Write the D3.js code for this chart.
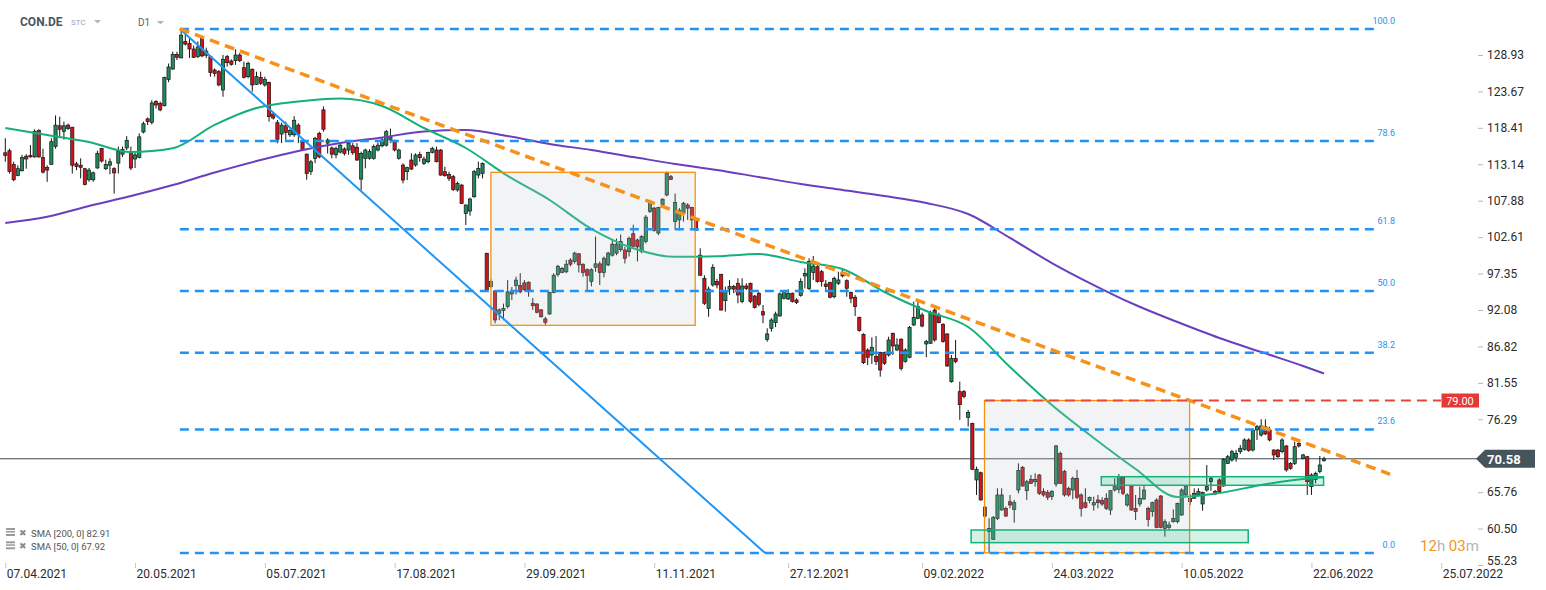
<!DOCTYPE html>
<html><head><meta charset="utf-8">
<script src="https://cdn.jsdelivr.net/npm/d3@7"></script>
<style>
html,body{margin:0;padding:0;background:#fff;overflow:hidden;}
svg{display:block;font-family:Roboto,"Noto Sans",Arial,sans-serif;}
</style></head><body>
<svg id="chart" width="1546" height="590"></svg>
<script>
// ---------------- data ----------------
const symbol = "CON.DE";
const startDate = "2021-04-07";
const closedDays = ["2021-05-24","2022-04-15","2022-04-18"];

const open = [
114.8,115.1,113.1,111.5,112.2,114.3,114.4,114.2,118.0,114.1,
112.7,113.1,115.7,118.7,117.9,118.8,118.5,113.2,113.0,112.5,
110.9,110.9,112.6,115.4,112.5,113.0,112.5,113.3,114.6,115.5,
115.0,113.9,114.1,117.8,119.7,119.2,122.2,121.9,121.6,125.4,
126.9,129.0,128.5,130.9,130.6,129.8,128.7,131.3,128.9,128.69,
126.76,126.52,123.87,128.69,128.07,128.11,128.93,127.1,125.8,126.86,
124.69,125.66,124.6,124.98,120.41,119.15,117.5,118.7,117.4,117.4,
118.8,116.3,114.6,112.1,114.0,117.6,121.0,116.2,115.5,114.5,
114.9,115.35,115.2,115.8,115.6,111.0,114.0,114.0,114.0,115.2,
115.8,115.9,116.65,116.4,114.0,113.03,112.07,113.75,113.03,114.57,
113.27,113.51,114.86,115.2,115.2,112.07,111.68,111.34,109.42,110.14,
106.04,106.38,108.45,111.58,111.83,100.27,95.45,94.83,91.6,92.0,
92.6,94.4,95.6,95.6,96.0,96.1,93.05,92.95,92.1,90.8,
91.5,94.6,97.2,97.5,97.6,99.3,99.1,100.2,98.7,97.9,
96.2,98.25,98.75,97.5,98.6,100.0,100.3,100.8,100.75,100.5,
103.1,102.2,100.5,102.0,106.3,106.8,103.2,107.3,108.7,111.35,
104.85,105.1,106.05,107.25,106.9,105.1,100.0,96.66,92.3,95.7,
96.18,97.24,93.43,95.1,95.46,95.94,93.3,95.55,95.94,94.1,
94.5,91.84,87.85,89.44,90.25,91.22,93.77,93.67,94.5,93.53,
94.16,97.0,95.2,97.48,98.34,97.62,95.84,96.04,94.0,95.94,
97.48,96.32,94.64,93.92,91.02,88.57,86.3,85.58,85.34,85.92,
85.92,85.58,88.71,86.3,87.85,84.62,85.25,89.92,90.88,91.36,
87.17,87.27,92.08,91.36,90.02,88.62,81.72,85.1,80.28,80.28,
76.57,75.7,67.52,68.57,63.6,60.1,58.94,61.97,63.18,63.42,
64.38,63.27,66.07,69.34,65.97,67.61,67.27,68.24,65.83,65.69,
65.11,66.94,71.37,68.72,66.31,66.07,67.76,65.35,64.24,64.53,
63.9,64.63,64.53,64.87,63.18,66.07,66.17,67.9,63.9,66.65,
63.42,64.05,64.77,63.42,62.94,64.63,65.2,60.53,60.67,61.49,
61.49,62.46,65.35,64.87,64.87,65.35,64.05,66.07,67.27,65.83,
67.52,66.65,69.92,70.4,70.79,71.61,71.95,73.3,71.85,74.74,
74.02,75.22,74.74,71.85,71.85,71.61,72.43,69.92,69.92,72.81,
70.64,70.88,66.55,67.61,68.72,70.3];

const high = [
116.9,115.4,113.5,113.0,114.5,114.6,115.9,118.2,118.2,115.4,
113.0,116.9,120.2,120.0,119.3,119.0,118.5,113.5,114.0,112.6,
112.6,112.1,115.1,115.5,113.8,114.0,112.7,115.7,115.7,117.2,
115.7,114.8,117.6,119.3,119.9,122.4,122.4,122.2,125.8,127.7,
129.4,129.4,132.7,132.2,131.3,130.3,130.9,131.6,130.0,128.93,
127.0,126.76,128.93,128.93,128.3,129.75,129.2,127.97,127.97,127.0,
126.52,126.52,125.8,125.08,120.6,119.54,119.15,119.3,118.3,120.1,
119.06,116.5,114.7,113.76,117.1,117.85,121.5,116.9,115.7,115.7,
116.3,115.6,116.65,116.2,116.2,114.96,115.4,115.3,116.0,116.3,
117.0,118.1,118.3,116.7,115.4,113.27,112.79,114.72,114.72,114.96,
114.23,114.96,115.68,115.68,115.34,112.79,112.07,111.58,110.62,110.24,
107.35,108.31,112.31,113.51,113.41,100.36,96.5,94.97,92.3,93.0,
96.4,95.4,96.9,97.4,96.4,96.2,93.8,93.05,92.2,91.1,
94.7,97.4,98.6,98.3,99.3,99.55,100.5,100.3,98.8,98.1,
98.1,102.7,99.1,99.8,100.5,102.3,102.4,103.0,101.2,102.7,
104.4,102.4,102.9,105.8,108.0,107.0,107.0,108.2,112.1,111.6,
108.9,106.8,107.7,107.5,107.0,105.2,101.0,97.1,95.46,98.7,
96.6,97.3,95.46,96.4,95.7,96.66,96.66,95.94,96.04,94.25,
94.7,92.8,89.44,90.9,91.84,94.6,94.97,95.07,94.6,93.77,
96.66,98.1,99.55,99.89,98.6,97.86,96.42,96.18,96.9,97.62,
97.96,96.52,94.73,94.25,91.12,88.71,86.55,88.14,88.33,86.06,
86.06,88.23,88.81,87.99,87.99,86.55,89.77,93.29,93.39,91.7,
87.75,91.98,92.33,91.7,90.16,88.71,85.58,87.75,81.72,80.52,
77.63,75.8,69.44,68.72,63.7,61.97,62.3,66.31,66.31,63.66,
65.35,64.63,69.92,69.54,67.52,68.24,68.48,68.38,66.31,66.07,
66.07,72.57,71.61,68.97,66.55,68.0,68.97,65.59,66.31,65.11,
65.11,65.35,65.01,65.59,66.07,67.76,68.38,68.0,65.59,66.79,
65.35,66.55,66.79,63.66,64.38,64.87,65.35,61.83,61.49,63.27,
64.24,66.31,66.79,65.49,66.31,66.31,65.83,69.68,68.0,66.07,
67.76,70.64,71.13,71.85,71.85,72.57,73.54,73.54,74.98,75.47,
76.28,76.28,75.22,71.95,72.0,73.54,72.57,70.1,73.06,73.3,
71.3,70.98,68.48,68.72,70.98,70.88];

const low = [
113.5,111.8,110.7,111.4,112.1,112.5,114.1,114.1,114.1,111.8,
110.6,113.1,115.4,116.9,116.7,118.1,111.8,112.3,111.1,110.1,
110.6,110.6,112.5,113.4,112.3,111.7,108.9,111.8,114.2,115.2,
112.3,112.6,114.0,117.6,118.8,118.9,121.2,120.8,121.5,125.0,
126.8,128.2,128.5,130.3,128.5,128.5,128.5,128.6,128.5,125.8,
125.8,124.4,122.9,127.25,127.4,127.5,127.9,125.56,125.56,123.63,
124.6,124.6,124.36,119.3,119.6,116.17,116.2,116.65,117.1,117.1,
116.2,115.1,110.9,111.6,113.3,114.0,117.85,114.7,114.0,114.0,
114.7,114.4,114.5,114.5,113.65,109.4,112.55,113.8,113.8,115.0,
115.6,115.7,116.2,115.0,113.8,110.38,110.86,112.31,112.79,113.51,
113.03,113.27,114.72,113.41,111.49,111.34,110.72,109.27,109.18,107.39,
104.36,105.71,108.31,111.1,111.1,94.73,95.3,90.16,90.6,90.6,
92.3,93.5,94.3,94.5,94.8,94.0,92.1,91.6,91.0,89.9,
91.4,94.5,96.9,97.4,97.4,98.4,98.8,97.5,96.9,94.7,
95.5,97.6,95.7,96.8,98.4,99.8,100.0,100.5,98.8,99.8,
101.2,99.1,100.3,101.7,106.1,103.4,102.9,107.0,108.5,110.9,
103.7,103.6,104.85,105.1,103.6,103.6,97.1,92.8,91.1,95.46,
95.2,92.0,91.84,94.25,94.5,93.05,93.05,94.97,93.05,92.3,
92.6,90.16,87.5,88.95,89.6,91.1,93.6,93.53,93.15,92.95,
94.0,95.2,94.97,96.42,96.04,95.46,94.73,93.77,93.77,95.7,
96.8,94.0,93.05,91.22,88.95,84.28,84.13,84.28,84.13,82.45,
84.13,85.34,85.58,86.16,83.32,84.47,85.1,89.77,90.74,89.58,
85.25,87.17,87.51,90.16,87.36,83.89,81.58,84.38,76.2,79.32,
75.22,68.97,65.35,64.53,62.1,56.92,58.85,61.73,63.08,62.2,
63.42,61.35,65.59,66.55,64.63,66.94,66.55,65.35,65.11,64.63,
64.63,66.55,66.94,65.11,65.11,64.73,64.73,62.22,63.42,64.14,
63.08,63.42,63.75,63.18,62.46,65.83,65.59,65.35,63.66,63.08,
61.73,63.66,64.63,60.77,62.22,60.53,60.53,59.32,60.29,61.35,
61.25,62.32,65.11,63.9,64.87,65.11,63.08,65.83,65.97,65.35,
65.69,66.55,69.82,70.16,70.16,71.27,71.76,71.61,71.61,73.3,
73.78,74.02,73.1,70.4,70.7,71.37,68.72,69.0,69.68,72.2,
70.5,65.35,65.35,67.03,68.48,70.16];

const close = [
114.4,112.1,110.9,112.5,114.1,113.9,114.2,117.9,114.2,112.0,
112.3,116.4,118.8,118.2,118.7,118.3,113.0,112.8,112.7,110.2,
112.3,111.9,114.7,113.6,113.1,113.5,111.9,115.0,115.3,116.6,
112.6,114.5,117.1,119.0,119.3,122.0,121.7,121.0,125.7,127.2,
129.0,128.6,131.8,130.5,129.8,128.6,130.1,128.8,129.5,126.38,
126.28,124.6,128.31,127.82,127.58,128.93,128.11,125.7,127.73,124.6,
125.8,124.84,125.42,120.02,119.83,116.75,118.8,117.75,118.0,119.5,
117.5,115.3,111.8,113.5,116.9,114.2,118.2,116.65,114.6,115.4,
115.9,114.7,116.2,114.8,113.75,114.7,115.2,114.96,115.7,115.9,
116.65,117.85,117.1,115.2,115.2,110.86,112.65,112.45,114.47,114.09,
113.9,114.86,115.44,113.51,111.58,111.49,111.1,109.51,110.38,107.49,
107.25,108.12,112.07,112.55,113.27,94.97,96.2,90.64,92.1,92.3,
94.7,94.7,96.4,94.7,95.0,95.0,92.7,91.75,91.1,90.3,
94.6,97.1,98.4,98.1,98.7,98.7,100.3,98.6,97.5,97.1,
97.9,98.75,97.5,99.55,100.3,101.6,101.6,102.0,99.55,102.4,
101.3,101.2,102.7,105.5,107.6,103.6,106.9,108.1,111.9,110.95,
107.6,106.5,107.5,106.8,105.1,103.6,97.1,93.05,95.1,98.25,
95.7,92.08,94.73,95.46,95.1,94.25,95.55,95.2,93.3,92.42,
92.9,91.36,88.62,90.64,91.5,94.4,94.73,94.5,93.3,93.15,
96.18,97.38,99.07,98.44,96.18,96.18,95.46,93.92,96.66,96.42,
97.0,95.22,93.77,92.57,89.1,84.47,85.25,86.69,84.62,83.41,
84.38,87.75,86.88,87.03,83.65,86.3,89.58,91.02,92.57,89.77,
87.51,91.7,87.75,90.25,87.51,83.99,85.1,84.62,78.4,79.56,
77.25,69.06,69.06,64.63,62.3,60.5,62.12,65.35,65.35,62.3,
63.9,64.24,68.87,66.65,67.27,67.03,67.61,65.59,65.35,65.01,
65.83,72.43,67.03,65.35,65.35,67.76,65.01,63.42,63.56,65.01,
64.24,64.24,64.05,63.42,65.97,66.55,68.0,65.59,65.35,63.18,
62.94,64.87,66.07,61.83,64.24,60.67,60.67,61.49,61.01,61.97,
64.14,66.07,66.65,64.38,65.59,65.83,65.69,66.55,67.76,65.49,
65.83,70.5,70.88,71.61,71.37,72.1,73.3,71.76,74.74,75.22,
75.32,74.16,73.3,71.13,70.88,73.3,68.97,69.2,72.33,72.43,
71.13,67.27,68.24,68.48,69.68,70.58];

// moving averages, read every 10 sessions
const smaIndex = [0,10,20,30,40,50,60,70,80,90,100,110,120,130,140,150,160,170,180,190,200,210,220,230,240,250,260,270,280,290,300,310,315];
const sma50 = [118.38,117.37,116.36,114.9,115.45,118.82,121.27,122.21,122.64,121.56,118.38,115.49,111.45,107.98,103.8,101.0,99.76,99.86,100.17,99.02,98.0,94.68,91.93,89.62,83.84,78.35,73.58,69.1,65.06,65.64,66.79,67.66,67.92];
const sma200 = [104.65,105.55,107.11,108.55,110.14,111.95,113.6,115.06,116.21,117.01,117.88,118.09,117.22,116.07,115.2,114.19,113.18,112.31,111.3,110.29,109.42,108.55,107.54,105.95,102.49,98.87,95.69,92.8,90.34,88.03,86.01,83.99,82.91];
const smaLegend = [["SMA  [200,  0]", "82.91"], ["SMA  [50,  0]", "67.92"]];

// axis ticks
const yTicks = [128.93,123.67,118.41,113.14,107.88,102.61,97.35,92.08,86.82,81.55,76.29,65.76,60.50,55.23];
const xTickLabels = ["07.04.2021","20.05.2021","05.07.2021","17.08.2021","29.09.2021","11.11.2021","27.12.2021","09.02.2022","24.03.2022","10.05.2022","22.06.2022","25.07.2022"];

// annotations (session index, price)
const fibHigh = 132.7, fibLow = 56.95;
const fibLevels = [100.0, 78.6, 61.8, 50.0, 38.2, 23.6, 0.0];
const fibSpan = [41.7, 327.2];
const trendBlue = [[41.7, 132.7], [181.5, 56.95]];
const trendOrange = [[41.7, 132.7], [330.8, 68.34]];
const greyBoxes = [{i0:116.0, i1:164.8, top:111.98, bottom:89.87}, {i0:233.9, i1:282.9, top:79.0, bottom:57.0}];
const greenBoxes = [{i0:230.7, i1:296.9, top:60.29, bottom:58.46}, {i0:261.8, i1:314.9, top:67.99, bottom:66.75}];
const resistance = {price: 79.00, i0: 234.0, label: "79.00"};
const lastPrice = 70.58;
const countdown = ["12","h ","03","m"];

// ---------------- build ----------------
const N = close.length;
const dates = [];
{
  const d = new Date(startDate + "T00:00:00Z");
  while (dates.length < N + 80) {
    const dow = d.getUTCDay();
    const iso = d.toISOString().slice(0, 10);
    if (dow !== 0 && dow !== 6 && !closedDays.includes(iso)) dates.push(iso);
    d.setUTCDate(d.getUTCDate() + 1);
  }
}
const fmtDate = iso => iso.slice(8,10) + "." + iso.slice(5,7) + "." + iso.slice(0,4);
const dateLabels = dates.map(fmtDate);

const svg = d3.select("#chart");
const x = d3.scaleLinear().domain([0, N - 1]).range([5.3, 1324]);
const y = d3.scaleLinear().domain([55.23, 128.93]).range([565, 55]);

// tick positions by date lookup (future ticks continue the spacing)
const tickIdx = [];
xTickLabels.forEach((lab, k) => {
  let idx = dateLabels.slice(0, N).indexOf(lab);
  if (idx < 0) idx = tickIdx[k-1] + (tickIdx[k-1] - tickIdx[k-2]);
  tickIdx.push(idx);
});

// last price line
svg.append("line").attr("x1", 0).attr("x2", 1477)
  .attr("y1", y(lastPrice)).attr("y2", y(lastPrice))
  .attr("stroke", "#3d4a52").attr("stroke-width", 1);

// candles
const gC = svg.append("g");
const idx = d3.range(N);
gC.selectAll("line.w").data(idx).join("line")
  .attr("x1", i => x(i)).attr("x2", i => x(i))
  .attr("y1", i => y(high[i])).attr("y2", i => y(low[i]))
  .attr("stroke", "#151515").attr("stroke-width", 1);
gC.selectAll("rect.b").data(idx).join("rect")
  .attr("x", i => x(i) - 1.6).attr("width", 3.2)
  .attr("y", i => y(Math.max(open[i], close[i])))
  .attr("height", i => Math.max(1, Math.abs(y(open[i]) - y(close[i]))))
  .attr("fill", i => close[i] >= open[i] ? "#1f8a5b" : "#d0141a")
  .attr("stroke", "#151515").attr("stroke-width", 0.7);

// SMAs
const smaLine = vals => d3.line().x((d, k) => x(smaIndex[k])).y(d => y(d)).curve(d3.curveMonotoneX)(vals);
svg.append("path").attr("d", smaLine(sma200)).attr("fill", "none").attr("stroke", "#6a3fbf").attr("stroke-width", 2);
svg.append("path").attr("d", smaLine(sma50)).attr("fill", "none").attr("stroke", "#14b07a").attr("stroke-width", 2);

// boxes
greyBoxes.forEach(b => {
  svg.append("rect").attr("x", x(b.i0)).attr("y", y(b.top))
    .attr("width", x(b.i1) - x(b.i0)).attr("height", y(b.bottom) - y(b.top))
    .attr("fill", "rgb(190,196,206)").attr("fill-opacity", 0.2)
    .attr("stroke", "#f5910f").attr("stroke-width", 1.3);
});
greenBoxes.forEach(b => {
  svg.append("rect").attr("x", x(b.i0)).attr("y", y(b.top))
    .attr("width", x(b.i1) - x(b.i0)).attr("height", y(b.bottom) - y(b.top))
    .attr("fill", "rgb(0,177,106)").attr("fill-opacity", 0.17)
    .attr("stroke", "#12b37a").attr("stroke-width", 1.5);
});

// fib levels
const fibG = svg.append("g");
fibLevels.forEach(l => {
  const p = fibLow + (fibHigh - fibLow) * l / 100;
  fibG.append("line").attr("x1", x(fibSpan[0])).attr("x2", x(fibSpan[1]))
    .attr("y1", y(p)).attr("y2", y(p))
    .attr("stroke", "#2392f5").attr("stroke-width", 2.5).attr("stroke-dasharray", "9,6");
  fibG.append("text").attr("x", 1395).attr("y", y(p) - 5)
    .attr("text-anchor", "end").attr("font-size", 9).attr("fill", "#2392f5")
    .text(l.toFixed(1));
});

// trend lines
svg.append("line")
  .attr("x1", x(trendBlue[0][0])).attr("y1", y(trendBlue[0][1]))
  .attr("x2", x(trendBlue[1][0])).attr("y2", y(trendBlue[1][1]))
  .attr("stroke", "#2196f3").attr("stroke-width", 2);
svg.append("line")
  .attr("x1", x(trendOrange[0][0])).attr("y1", y(trendOrange[0][1]))
  .attr("x2", x(trendOrange[1][0])).attr("y2", y(trendOrange[1][1]))
  .attr("stroke", "#f7911a").attr("stroke-width", 3.5).attr("stroke-dasharray", "10,6");

// resistance
svg.append("line").attr("x1", x(resistance.i0)).attr("x2", 1441)
  .attr("y1", y(resistance.price)).attr("y2", y(resistance.price))
  .attr("stroke", "#e8473e").attr("stroke-width", 2).attr("stroke-dasharray", "10,6");
svg.append("rect").attr("x", 1441.5).attr("y", y(resistance.price) - 7).attr("width", 37.5).attr("height", 14)
  .attr("fill", "#e53935");
svg.append("text").attr("x", 1460).attr("y", y(resistance.price) + 4).attr("text-anchor", "middle")
  .attr("font-size", 11).attr("fill", "#fff").text(resistance.label);

// y axis
const yAxis = d3.axisRight(y).tickValues(yTicks).tickFormat(d3.format(".2f")).tickSize(5).tickPadding(4);
const gy = svg.append("g").attr("transform", "translate(1478,0)").call(yAxis);
gy.select(".domain").remove();
gy.selectAll(".tick line").attr("stroke", "#b8b8b8");
gy.selectAll(".tick text").attr("font-size", 12).attr("fill", "#2b2b2b").attr("font-family", "Roboto, sans-serif");
gy.selectAll(".tick").filter(d => d === 55.23).select("text").attr("dy", "-0.05em");

// last price tag
const ly = y(lastPrice);
svg.append("path").attr("d", `M1476,${ly} L1485,${ly-9} L1535,${ly-9} L1535,${ly+9} L1485,${ly+9} Z`).attr("fill", "#46545c");
svg.append("text").attr("x", 1487).attr("y", ly + 5).attr("font-size", 13).attr("font-weight", "bold")
  .attr("fill", "#fff").text(lastPrice.toFixed(2));

// x axis
const xAxis = d3.axisBottom(x).tickValues(tickIdx).tickFormat((d, k) => xTickLabels[k]).tickSize(5).tickPadding(1);
const gx = svg.append("g").attr("transform", "translate(0,563)").call(xAxis);
gx.select(".domain").remove();
gx.selectAll(".tick line").attr("stroke", "#c4c4c4");
gx.selectAll(".tick text").attr("text-anchor", "start").attr("x", 1).attr("font-size", 12)
  .attr("fill", "#2b2b2b").attr("font-family", "Roboto, sans-serif");

// countdown
const cd = svg.append("text").attr("x", 1420).attr("y", 551).attr("font-size", 15);
countdown.forEach((t, k) => cd.append("tspan").attr("fill", k % 2 === 0 ? "#f7931e" : "#b5b5b5").text(t));

// header
svg.append("text").attr("x", 20).attr("y", 26).attr("font-size", 12).attr("font-weight", "bold").attr("fill", "#4a5560").text(symbol);
svg.append("text").attr("x", 71).attr("y", 25).attr("font-size", 8).attr("fill", "#9aa3aa").text("STC");
svg.append("path").attr("d", "M94,20 L101,20 L97.5,23.5 Z").attr("fill", "#b0b6bb");
svg.append("text").attr("x", 138).attr("y", 26).attr("font-size", 10).attr("fill", "#5a646c").text("D1");
svg.append("path").attr("d", "M157,21 L164,21 L160.5,24.5 Z").attr("fill", "#b0b6bb");

// legend
smaLegend.forEach((s, k) => {
  const yy = 533 + k * 13.3;
  const g = svg.append("g");
  g.append("rect").attr("x", 6).attr("y", yy - 5).attr("width", 9).attr("height", 2).attr("fill", "#9a9a9a");
  g.append("rect").attr("x", 6).attr("y", yy - 2).attr("width", 9).attr("height", 1.5).attr("fill", "#9a9a9a");
  g.append("rect").attr("x", 6).attr("y", yy + 1).attr("width", 9).attr("height", 2).attr("fill", "#9a9a9a");
  g.append("text").attr("x", 19).attr("y", yy + 3).attr("font-size", 9).attr("fill", "#8a8a8a")
    .attr("font-family", "DejaVu Sans, sans-serif").text("\u2716");
  g.append("text").attr("x", 31).attr("y", yy + 3.5).attr("font-size", 9.5).attr("fill", "#555")
    .text(s[0] + " " + s[1]);
});
</script>
</body></html>
